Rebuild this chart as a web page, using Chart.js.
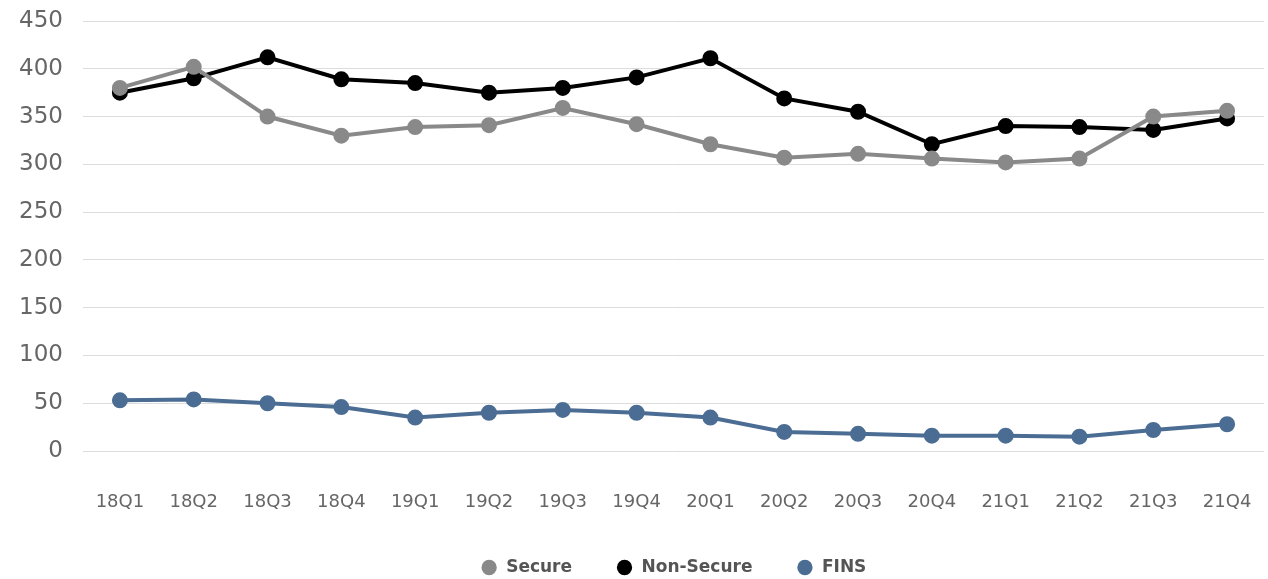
<!DOCTYPE html>
<html>
<head>
<meta charset="utf-8">
<script src="https://cdn.jsdelivr.net/npm/chart.js@4"></script>
<style>
  html, body { margin: 0; padding: 0; background: #ffffff; }
  #wrap { width: 1268px; height: 579px; position: relative; }
</style>
</head>
<body>
<div id="wrap"><canvas id="chart"></canvas></div>
<script>
// Quarterly series
const quarters = ['18Q1','18Q2','18Q3','18Q4','19Q1','19Q2','19Q3','19Q4','20Q1','20Q2','20Q3','20Q4','21Q1','21Q2','21Q3','21Q4'];
const secure    = [380, 402, 350, 330, 339, 341, 359, 342, 321, 307, 311, 306, 302, 306, 350, 356];
const nonSecure = [375, 390, 412, 389, 385, 375, 380, 391, 411, 369, 355, 321, 340, 339, 336, 348];
const fins      = [53, 54, 50, 46, 35, 40, 43, 40, 35, 20, 18, 16, 16, 15, 22, 28];
const yTicks    = [0, 50, 100, 150, 200, 250, 300, 350, 400, 450];

const FONT = "'DejaVu Sans', 'Open Sans', sans-serif";

function series(label, data, color) {
  return {
    label, data,
    borderColor: color,
    backgroundColor: color,
    pointBackgroundColor: color,
    pointBorderColor: color,
    borderWidth: 4,
    pointRadius: 6,
    pointHoverRadius: 6,
    tension: 0
  };
}

new Chart(document.getElementById('chart'), {
  type: 'line',
  data: {
    labels: quarters,
    datasets: [
      series('Secure', secure, '#898989'),
      series('Non-Secure', nonSecure, '#000000'),
      series('FINS', fins, '#4b6c93')
    ]
  },
  options: {
    responsive: true,
    maintainAspectRatio: false,
    animation: false,
    layout: { autoPadding: false, padding: { top: 21, right: 4, left: 0, bottom: -7 } },
    plugins: {
      tooltip: { enabled: false },
      legend: {
        position: 'bottom',
        fullSize: false,
        labels: {
          usePointStyle: true,
          pointStyle: 'circle',
          boxWidth: 17,
          boxHeight: 8,
          padding: 44,
          color: '#555555',
          font: { family: FONT, size: 17, weight: 'bold' }
        }
      }
    },
    scales: {
      x: {
        offset: true,
        grid: { display: false },
        border: { display: false },
        afterFit: (scale) => {
          scale.paddingLeft = 0;
          scale.paddingRight = 0;
          scale.height = 64;
        },
        ticks: {
          color: '#666666',
          padding: 33,
          maxRotation: 0,
          font: { family: FONT, size: 18 }
        }
      },
      y: {
        min: 0,
        max: 450,
        afterBuildTicks: (scale) => { scale.ticks = yTicks.map(v => ({ value: v })); },
        afterFit: (scale) => {
          scale.width = 83;
          scale.paddingTop = 0;
          scale.paddingBottom = 0;
        },
        grid: { color: '#dcdcdc', lineWidth: 1, drawTicks: false },
        border: { display: false },
        ticks: {
          color: '#666666',
          padding: 20,
          font: { family: FONT, size: 23 }
        }
      }
    }
  }
});
</script>
</body>
</html>
